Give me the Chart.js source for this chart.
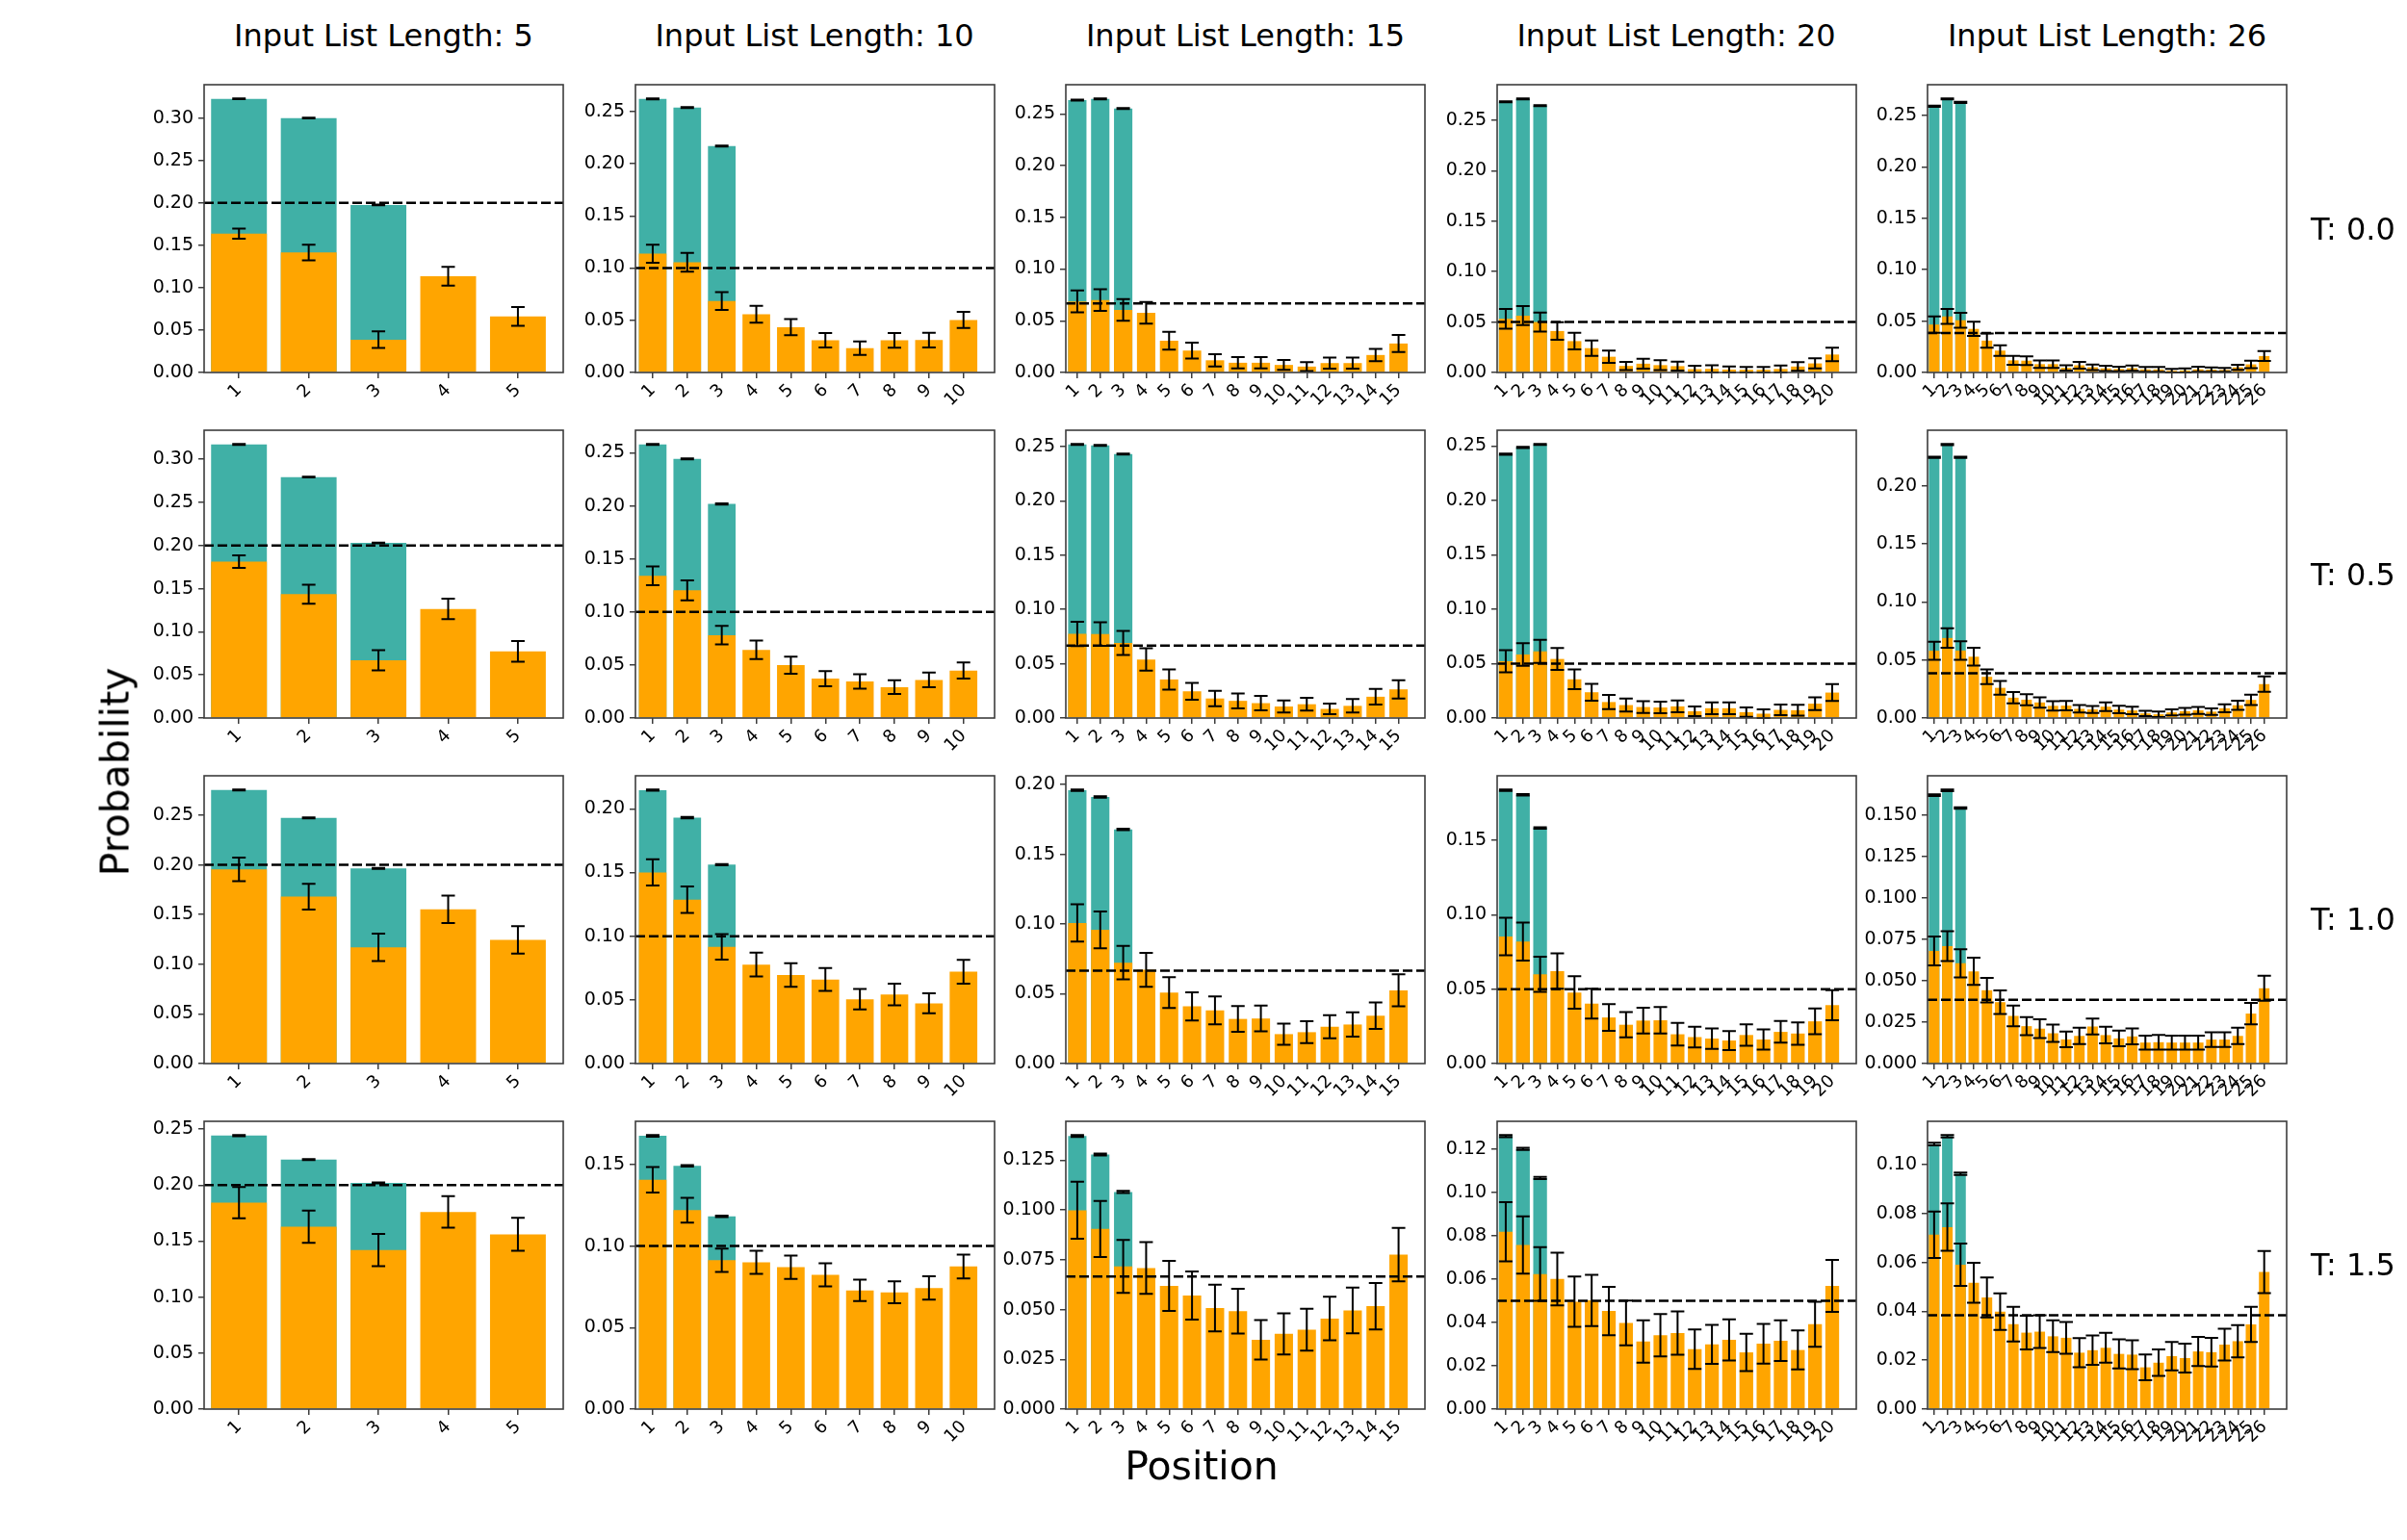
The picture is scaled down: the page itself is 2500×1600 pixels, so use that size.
<!DOCTYPE html>
<html><head><meta charset="utf-8">
<script src="https://cdn.jsdelivr.net/npm/chart.js@4.4.1/dist/chart.umd.min.js"></script>
<style>
html,body{margin:0;padding:0;background:#fff;}
#fig{position:relative;width:2500px;height:1600px;overflow:hidden;font-family:"DejaVu Sans",sans-serif;background:#fff;}
canvas{position:absolute;}
.txt{position:absolute;white-space:nowrap;color:#000;transform:translate(-50%,-50%);line-height:1;}
</style></head><body><div id="fig"></div>
<script>
// ---------------- categories / labels ----------------
const LIST_LENGTHS = [5, 10, 15, 20, 26];
const TEMPERATURES = ['0.0', '0.5', '1.0', '1.5'];
const POSITION_LABELS = ['1','2','3','4','5','6','7','8','9','10','11','12','13','14','15','16','17','18','19','20','21','22','23','24','25','26'];

// ---------------- T = 0.0 ----------------
const mean_T00_N5  = [0.1638, 0.1415, 0.0387, 0.1135, 0.0661];
const err_T00_N5   = [0.0060, 0.0093, 0.0097, 0.0111, 0.0110];
const top_T00_N5   = [0.3227, 0.3000, 0.1976];
const mean_T00_N10 = [0.1138, 0.1055, 0.0685, 0.0558, 0.0434, 0.0308, 0.0233, 0.0308, 0.0310, 0.0503];
const err_T00_N10  = [0.0086, 0.0090, 0.0085, 0.0080, 0.0077, 0.0069, 0.0064, 0.0070, 0.0070, 0.0077];
const top_T00_N10  = [0.2620, 0.2537, 0.2169];
const mean_T00_N15 = [0.0687, 0.0700, 0.0605, 0.0576, 0.0307, 0.0212, 0.0118, 0.0094, 0.0094, 0.0073, 0.0057, 0.0091, 0.0091, 0.0169, 0.0280];
const err_T00_N15  = [0.0105, 0.0105, 0.0104, 0.0105, 0.0087, 0.0076, 0.0059, 0.0054, 0.0054, 0.0048, 0.0042, 0.0054, 0.0054, 0.0060, 0.0082];
const top_T00_N15  = [0.2632, 0.2644, 0.2551];
const mean_T00_N20 = [0.0532, 0.0563, 0.0500, 0.0411, 0.0311, 0.0241, 0.0156, 0.0065, 0.0087, 0.0073, 0.0063, 0.0033, 0.0036, 0.0029, 0.0027, 0.0027, 0.0035, 0.0059, 0.0090, 0.0178];
const err_T00_N20  = [0.0097, 0.0094, 0.0094, 0.0087, 0.0083, 0.0076, 0.0060, 0.0040, 0.0050, 0.0048, 0.0044, 0.0033, 0.0035, 0.0030, 0.0027, 0.0027, 0.0035, 0.0043, 0.0050, 0.0067];
const top_T00_N20  = [0.2683, 0.2711, 0.2644];
const mean_T00_N26 = [0.0466, 0.0545, 0.0508, 0.0424, 0.0310, 0.0213, 0.0118, 0.0115, 0.0081, 0.0081, 0.0045, 0.0070, 0.0051, 0.0040, 0.0034, 0.0042, 0.0030, 0.0030, 0.0017, 0.0020, 0.0031, 0.0028, 0.0025, 0.0050, 0.0079, 0.0160];
const err_T00_N26  = [0.0079, 0.0072, 0.0072, 0.0069, 0.0070, 0.0051, 0.0044, 0.0042, 0.0037, 0.0037, 0.0026, 0.0033, 0.0027, 0.0025, 0.0022, 0.0026, 0.0023, 0.0023, 0.0017, 0.0020, 0.0024, 0.0022, 0.0019, 0.0025, 0.0036, 0.0048];
const top_T00_N26  = [0.2589, 0.2660, 0.2626];

// ---------------- T = 0.5 ----------------
const mean_T05_N5  = [0.1813, 0.1436, 0.0670, 0.1265, 0.0774];
const err_T05_N5   = [0.0072, 0.0111, 0.0117, 0.0119, 0.0120];
const top_T05_N5   = [0.3173, 0.2794, 0.2030];
const mean_T05_N10 = [0.1341, 0.1204, 0.0781, 0.0643, 0.0498, 0.0371, 0.0344, 0.0291, 0.0359, 0.0448];
const err_T05_N10  = [0.0089, 0.0094, 0.0087, 0.0087, 0.0081, 0.0072, 0.0068, 0.0065, 0.0069, 0.0077];
const top_T05_N10  = [0.2579, 0.2443, 0.2018];
const mean_T05_N15 = [0.0775, 0.0773, 0.0691, 0.0539, 0.0355, 0.0246, 0.0180, 0.0158, 0.0137, 0.0106, 0.0127, 0.0084, 0.0112, 0.0196, 0.0264];
const err_T05_N15  = [0.0112, 0.0108, 0.0110, 0.0103, 0.0093, 0.0078, 0.0071, 0.0069, 0.0066, 0.0056, 0.0059, 0.0049, 0.0062, 0.0072, 0.0084];
const top_T05_N15  = [0.2518, 0.2510, 0.2430];
const mean_T05_N20 = [0.0522, 0.0584, 0.0612, 0.0543, 0.0356, 0.0237, 0.0147, 0.0119, 0.0101, 0.0097, 0.0107, 0.0062, 0.0090, 0.0090, 0.0054, 0.0040, 0.0075, 0.0072, 0.0132, 0.0234];
const err_T05_N20  = [0.0101, 0.0104, 0.0106, 0.0101, 0.0091, 0.0078, 0.0065, 0.0060, 0.0054, 0.0053, 0.0054, 0.0044, 0.0054, 0.0054, 0.0043, 0.0040, 0.0049, 0.0049, 0.0059, 0.0078];
const top_T05_N20  = [0.2426, 0.2488, 0.2515];
const mean_T05_N26 = [0.0579, 0.0689, 0.0581, 0.0528, 0.0355, 0.0260, 0.0175, 0.0158, 0.0134, 0.0105, 0.0107, 0.0079, 0.0074, 0.0098, 0.0073, 0.0065, 0.0040, 0.0032, 0.0048, 0.0059, 0.0066, 0.0055, 0.0084, 0.0110, 0.0156, 0.0292];
const err_T05_N26  = [0.0077, 0.0083, 0.0080, 0.0076, 0.0063, 0.0059, 0.0048, 0.0048, 0.0045, 0.0041, 0.0041, 0.0032, 0.0030, 0.0037, 0.0032, 0.0032, 0.0023, 0.0023, 0.0026, 0.0029, 0.0030, 0.0028, 0.0034, 0.0039, 0.0045, 0.0066];
const top_T05_N26  = [0.2245, 0.2355, 0.2245];

// ---------------- T = 1.0 ----------------
const mean_T10_N5  = [0.1955, 0.1680, 0.1169, 0.1552, 0.1246];
const err_T10_N5   = [0.0119, 0.0130, 0.0138, 0.0138, 0.0138];
const top_T10_N5   = [0.2754, 0.2473, 0.1965];
const mean_T10_N10 = [0.1501, 0.1287, 0.0916, 0.0777, 0.0695, 0.0660, 0.0505, 0.0542, 0.0473, 0.0721];
const err_T10_N10  = [0.0103, 0.0104, 0.0100, 0.0094, 0.0093, 0.0090, 0.0080, 0.0085, 0.0079, 0.0093];
const top_T10_N10  = [0.2147, 0.1931, 0.1562];
const mean_T10_N15 = [0.1008, 0.0959, 0.0723, 0.0672, 0.0509, 0.0410, 0.0382, 0.0320, 0.0323, 0.0211, 0.0225, 0.0264, 0.0280, 0.0343, 0.0525];
const err_T10_N15  = [0.0134, 0.0132, 0.0120, 0.0122, 0.0110, 0.0101, 0.0100, 0.0093, 0.0092, 0.0076, 0.0078, 0.0083, 0.0087, 0.0095, 0.0115];
const top_T10_N15  = [0.1960, 0.1912, 0.1678];
const mean_T10_N20 = [0.0854, 0.0820, 0.0600, 0.0622, 0.0478, 0.0403, 0.0310, 0.0261, 0.0289, 0.0291, 0.0197, 0.0178, 0.0168, 0.0155, 0.0192, 0.0162, 0.0213, 0.0202, 0.0284, 0.0393];
const err_T10_N20  = [0.0126, 0.0128, 0.0118, 0.0119, 0.0109, 0.0100, 0.0090, 0.0085, 0.0087, 0.0089, 0.0076, 0.0069, 0.0069, 0.0064, 0.0072, 0.0068, 0.0073, 0.0075, 0.0086, 0.0101];
const top_T10_N20  = [0.1838, 0.1807, 0.1584];
const mean_T10_N26 = [0.0680, 0.0709, 0.0606, 0.0557, 0.0443, 0.0371, 0.0288, 0.0226, 0.0211, 0.0183, 0.0146, 0.0167, 0.0224, 0.0172, 0.0152, 0.0164, 0.0127, 0.0129, 0.0127, 0.0127, 0.0127, 0.0145, 0.0145, 0.0167, 0.0302, 0.0455];
const err_T10_N26  = [0.0087, 0.0090, 0.0085, 0.0082, 0.0074, 0.0071, 0.0062, 0.0054, 0.0057, 0.0052, 0.0047, 0.0049, 0.0048, 0.0050, 0.0047, 0.0048, 0.0042, 0.0044, 0.0042, 0.0042, 0.0042, 0.0044, 0.0044, 0.0049, 0.0065, 0.0076];
const top_T10_N26  = [0.1622, 0.1651, 0.1544];

// ---------------- T = 1.5 ----------------
const mean_T15_N5  = [0.1844, 0.1630, 0.1421, 0.1761, 0.1561];
const err_T15_N5   = [0.0139, 0.0144, 0.0144, 0.0141, 0.0147];
const top_T15_N5   = [0.2443, 0.2229, 0.2020];
const mean_T15_N10 = [0.1406, 0.1220, 0.0913, 0.0900, 0.0870, 0.0824, 0.0728, 0.0716, 0.0743, 0.0875];
const err_T15_N10  = [0.0078, 0.0076, 0.0072, 0.0071, 0.0072, 0.0071, 0.0066, 0.0067, 0.0071, 0.0073];
const top_T15_N10  = [0.1676, 0.1492, 0.1182];
const mean_T15_N15 = [0.0999, 0.0905, 0.0717, 0.0709, 0.0619, 0.0571, 0.0508, 0.0492, 0.0348, 0.0378, 0.0399, 0.0455, 0.0496, 0.0517, 0.0776];
const err_T15_N15  = [0.0143, 0.0141, 0.0133, 0.0130, 0.0126, 0.0121, 0.0117, 0.0113, 0.0099, 0.0103, 0.0105, 0.0109, 0.0115, 0.0117, 0.0134];
const top_T15_N15  = [0.1372, 0.1279, 0.1091];
const mean_T15_N20 = [0.0819, 0.0758, 0.0624, 0.0601, 0.0496, 0.0502, 0.0453, 0.0398, 0.0312, 0.0341, 0.0351, 0.0277, 0.0299, 0.0320, 0.0262, 0.0302, 0.0316, 0.0273, 0.0392, 0.0569];
const err_T15_N20  = [0.0137, 0.0132, 0.0124, 0.0122, 0.0116, 0.0118, 0.0112, 0.0103, 0.0098, 0.0098, 0.0100, 0.0091, 0.0090, 0.0095, 0.0086, 0.0092, 0.0094, 0.0090, 0.0104, 0.0120];
const top_T15_N20  = [0.1261, 0.1202, 0.1067];
const mean_T15_N26 = [0.0714, 0.0745, 0.0591, 0.0517, 0.0457, 0.0399, 0.0348, 0.0313, 0.0317, 0.0298, 0.0292, 0.0231, 0.0241, 0.0251, 0.0226, 0.0223, 0.0171, 0.0190, 0.0217, 0.0209, 0.0236, 0.0233, 0.0264, 0.0278, 0.0347, 0.0561];
const err_T15_N26  = [0.0095, 0.0097, 0.0087, 0.0082, 0.0082, 0.0075, 0.0071, 0.0069, 0.0067, 0.0065, 0.0065, 0.0060, 0.0060, 0.0061, 0.0060, 0.0059, 0.0053, 0.0054, 0.0058, 0.0059, 0.0060, 0.0059, 0.0065, 0.0066, 0.0072, 0.0086];
const top_T15_N26  = [0.1085, 0.1117, 0.0963];

// error on the top-3 (teal) bars: tiny
const TOP_ERR = [0.0005, 0.0005, 0.0005];

// y tick steps per row
const Y_STEP_T00 = [0.05, 0.05, 0.05, 0.05, 0.05];
const Y_STEP_T05 = [0.05, 0.05, 0.05, 0.05, 0.05];
const Y_STEP_T10 = [0.05, 0.05, 0.05, 0.05, 0.025];
const Y_STEP_T15 = [0.05, 0.05, 0.025, 0.02, 0.02];

const GRID = [
  [[mean_T00_N5, err_T00_N5, top_T00_N5], [mean_T00_N10, err_T00_N10, top_T00_N10], [mean_T00_N15, err_T00_N15, top_T00_N15], [mean_T00_N20, err_T00_N20, top_T00_N20], [mean_T00_N26, err_T00_N26, top_T00_N26]],
  [[mean_T05_N5, err_T05_N5, top_T05_N5], [mean_T05_N10, err_T05_N10, top_T05_N10], [mean_T05_N15, err_T05_N15, top_T05_N15], [mean_T05_N20, err_T05_N20, top_T05_N20], [mean_T05_N26, err_T05_N26, top_T05_N26]],
  [[mean_T10_N5, err_T10_N5, top_T10_N5], [mean_T10_N10, err_T10_N10, top_T10_N10], [mean_T10_N15, err_T10_N15, top_T10_N15], [mean_T10_N20, err_T10_N20, top_T10_N20], [mean_T10_N26, err_T10_N26, top_T10_N26]],
  [[mean_T15_N5, err_T15_N5, top_T15_N5], [mean_T15_N10, err_T15_N10, top_T15_N10], [mean_T15_N15, err_T15_N15, top_T15_N15], [mean_T15_N20, err_T15_N20, top_T15_N20], [mean_T15_N26, err_T15_N26, top_T15_N26]]
];
const Y_STEPS = [Y_STEP_T00, Y_STEP_T05, Y_STEP_T10, Y_STEP_T15];

// ---------------- layout / style ----------------
const FONT = '"DejaVu Sans", sans-serif';
const ORANGE = '#FFA500';
const TEAL = '#40B0A6';
const AXIS_COLOR = '#3c3c3c';
const PLOT_LEFT = [212, 659.5, 1107, 1554.5, 2002];
const PLOT_TOP = [88, 447, 805.5, 1164.5];
const PW = 373, PH = 299;
const PADL = 110, PADT = 20, PADR = 30, XAXH = 70;

Chart.defaults.font.family = FONT;

const fig = document.getElementById('fig');

function addText(str, x, y, size, rot) {
  const d = document.createElement('div');
  d.className = 'txt';
  d.textContent = str;
  d.style.left = x + 'px';
  d.style.top = y + 'px';
  d.style.fontSize = size + 'px';
  if (rot) d.style.transform = 'translate(-50%,-50%) rotate(' + rot + 'deg)';
  fig.appendChild(d);
}

function makeChart(r, c) {
  const N = LIST_LENGTHS[c];
  const [mean, err, top] = GRID[r][c];
  const labels = POSITION_LABELS.slice(0, N);
  const step = Y_STEPS[r][c];
  const dec = step === 0.025 ? 3 : 2;
  let vmax = 0;
  mean.forEach((m, i) => { vmax = Math.max(vmax, m + err[i]); });
  top.forEach((m, i) => { vmax = Math.max(vmax, m + TOP_ERR[i]); });
  const ymax = vmax * 1.05;
  const yTicks = [];
  for (let k = 0; k * step <= ymax + 1e-9; k++) yTicks.push(+(k * step).toFixed(6));

  const L = PLOT_LEFT[c], T = PLOT_TOP[r];
  const cw = PADL + PW + PADR, ch = PADT + PH + XAXH;
  const canvas = document.createElement('canvas');
  canvas.width = cw; canvas.height = ch;
  canvas.style.left = (L - PADL) + 'px';
  canvas.style.top = (T - PADT) + 'px';
  canvas.style.width = cw + 'px';
  canvas.style.height = ch + 'px';
  fig.appendChild(canvas);

  const overlay = {
    id: 'overlay',
    afterDatasetsDraw(chart) {
      const ctx = chart.ctx, a = chart.chartArea, xs = chart.scales.x, ys = chart.scales.y;
      ctx.save();
      // dashed uniform line
      ctx.strokeStyle = '#000';
      ctx.lineWidth = 2.5;
      ctx.setLineDash([10, 4]);
      const yu = ys.getPixelForValue(1 / N);
      ctx.beginPath(); ctx.moveTo(a.left, yu); ctx.lineTo(a.right, yu); ctx.stroke();
      ctx.setLineDash([]);
      // error bars
      ctx.lineWidth = 2;
      chart.data.datasets.slice().reverse().forEach(ds => {
        ds.data.forEach((p, i) => {
          const e = ds.errs[i];
          const xp = xs.getPixelForValue(p.x);
          const y1 = ys.getPixelForValue(p.y + e), y2 = ys.getPixelForValue(p.y - e);
          ctx.beginPath();
          ctx.moveTo(xp, y1); ctx.lineTo(xp, y2);
          ctx.moveTo(xp - 7, y1); ctx.lineTo(xp + 7, y1);
          ctx.moveTo(xp - 7, y2); ctx.lineTo(xp + 7, y2);
          ctx.stroke();
        });
      });
      // frame
      ctx.strokeStyle = AXIS_COLOR;
      ctx.lineWidth = 1.6;
      ctx.strokeRect(a.left, a.top, a.right - a.left, a.bottom - a.top);
      ctx.restore();
    }
  };

  new Chart(canvas.getContext('2d'), {
    type: 'bar',
    data: {
      datasets: [
        { data: mean.map((v, i) => ({ x: +labels[i], y: v })), errs: err, backgroundColor: ORANGE,
          grouped: false, order: 0, categoryPercentage: 1, barPercentage: 0.8, borderWidth: 0 },
        { data: top.map((v, i) => ({ x: +labels[i], y: v })), errs: TOP_ERR, backgroundColor: TEAL,
          grouped: false, order: 1, categoryPercentage: 1, barPercentage: 0.8, borderWidth: 0 }
      ]
    },
    options: {
      responsive: false, animation: false, devicePixelRatio: 1,
      layout: { padding: { top: PADT, right: PADR, left: 0, bottom: 0 } },
      plugins: { legend: { display: false }, tooltip: { enabled: false } },
      scales: {
        x: {
          type: 'linear', min: 0.5, max: 1.05 * N + 0.4, offset: false,
          grid: { offset: false, drawOnChartArea: false, drawTicks: true, tickLength: 6, color: AXIS_COLOR, lineWidth: 1.5 },
          border: { display: false },
          afterBuildTicks: s => { s.ticks = labels.map(v => ({ value: +v })); },
          afterFit: s => { s.height = XAXH; },
          ticks: { autoSkip: false, minRotation: 45, maxRotation: 45, padding: 2, color: '#000',
                   font: { family: FONT, size: 18 }, callback: (v, i) => labels[i] }
        },
        y: {
          type: 'linear', min: 0, max: ymax,
          grid: { drawOnChartArea: false, drawTicks: true, tickLength: 6, color: AXIS_COLOR, lineWidth: 1.5 },
          border: { display: false },
          afterBuildTicks: s => { s.ticks = yTicks.map(v => ({ value: v })); },
          afterFit: s => { s.width = PADL; },
          ticks: { padding: 5, color: '#000', font: { family: FONT, size: 19 },
                   callback: v => Number(v).toFixed(dec) }
        }
      }
    },
    plugins: [overlay]
  });
}

for (let r = 0; r < 4; r++) for (let c = 0; c < 5; c++) makeChart(r, c);

// column titles
LIST_LENGTHS.forEach((n, c) => addText('Input List Length: ' + n, PLOT_LEFT[c] + PW / 2, 37, 32));
// row labels
TEMPERATURES.forEach((t, r) => {
  const d = document.createElement('div');
  d.className = 'txt';
  d.textContent = 'T: ' + t;
  d.style.left = '2400px';
  d.style.top = (PLOT_TOP[r] + PH / 2) + 'px';
  d.style.fontSize = '32px';
  d.style.transform = 'translate(0,-50%)';
  fig.appendChild(d);
});
addText('Probability', 120, 802, 41, -90);
addText('Position', 1248, 1523, 41);
</script>
</body></html>
